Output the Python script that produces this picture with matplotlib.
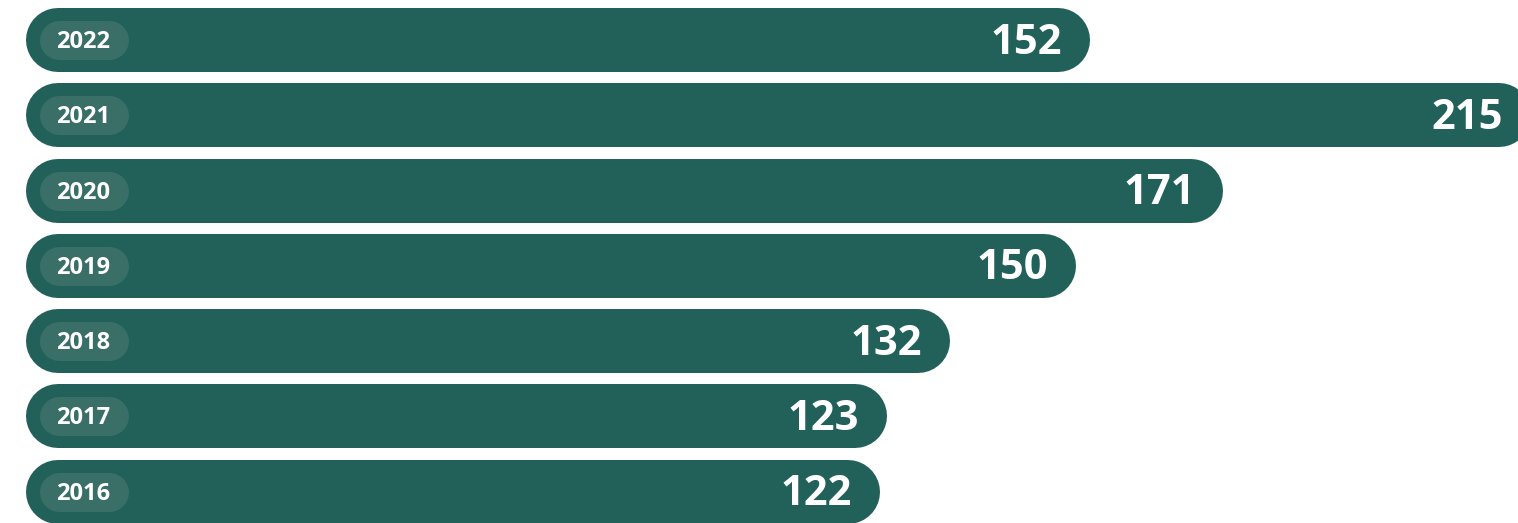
#!/usr/bin/env python3
# Rounded horizontal bars, one per year

import matplotlib.pyplot as plt

# ---------- DATA ----------
years = ["2022", "2021", "2020", "2019", "2018", "2017", "2016"]
values = [152, 215, 171, 150, 132, 123, 122]

# ---------- STYLE ----------
BAR = "#22615a"
PILL = "#3a6f68"
W, H, DPI = 1518, 523, 100
X0 = 26            # pixel where value 0 sits
XS = 7.0           # pixels per unit (same on both axes)
Y0 = 40            # pixel centre of first row
px = 1 / XS        # one pixel in data units
pt = 72 / DPI      # one pixel in points
row = 75.3 * px    # row spacing

fig = plt.figure(figsize=(W / DPI, H / DPI), dpi=DPI)
ax = fig.add_axes([0, 0, 1, 1])
ax.set_xlim(-X0 * px, (W - X0) * px)
ax.set_ylim((H - Y0) * px, -Y0 * px)
ax.axis("off")

bar_r = 32      # half bar height, px
pill_r = 19.5   # half pill height, px
pill_x0, pill_x1 = 13, 103   # pill span from value 0, px

for i, (yr, v) in enumerate(zip(years, values)):
    yc = i * row
    # bars as thick lines with round caps -> true semicircle ends
    ax.plot([bar_r * px, v - bar_r * px], [yc, yc], color=BAR,
            lw=2 * bar_r * pt, solid_capstyle="round")
    ax.plot([(pill_x0 + pill_r) * px, (pill_x1 - pill_r) * px], [yc, yc],
            color=PILL, lw=2 * pill_r * pt, solid_capstyle="round")
    ax.text((pill_x0 + pill_x1) / 2 * px - 1 * px, yc + 2 * px, yr,
            ha="center", va="center", color="white", fontsize=17,
            fontweight="bold", family="Open Sans")
    ax.text(v - 28 * px, yc + 3 * px, str(v), ha="right", va="center",
            color="white", fontsize=30, fontweight="bold", family="Open Sans")

fig.savefig("out.png", dpi=DPI)
